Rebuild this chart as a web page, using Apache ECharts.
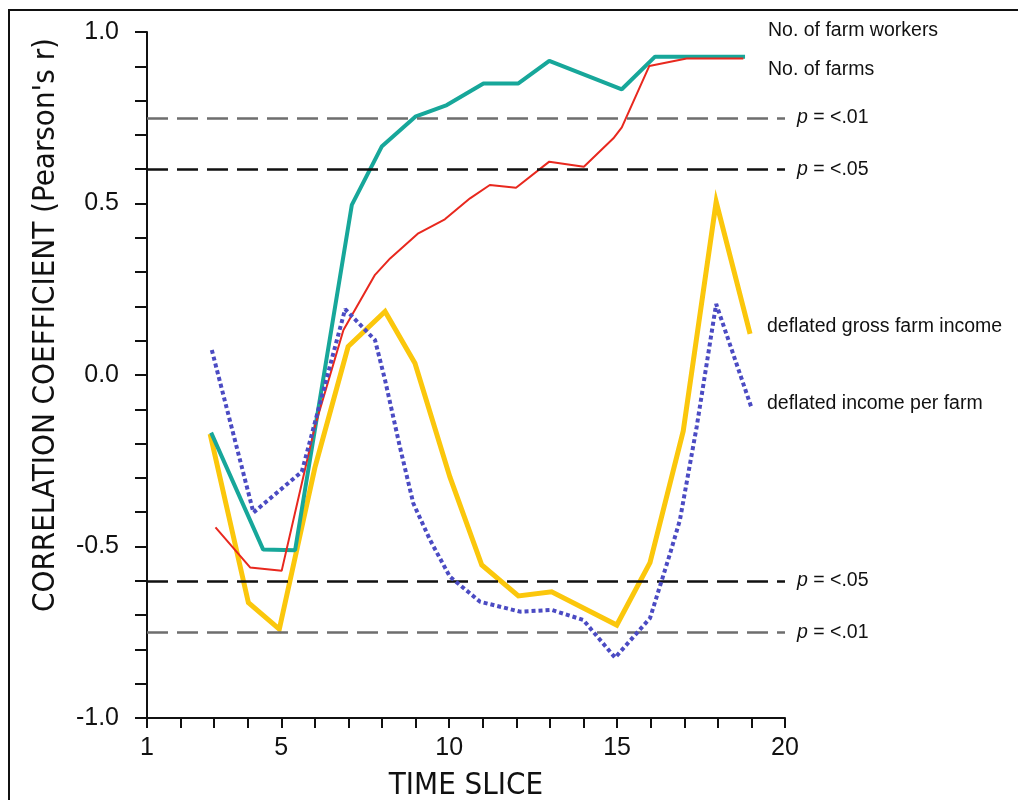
<!DOCTYPE html>
<html>
<head>
<meta charset="utf-8">
<script src="https://cdn.jsdelivr.net/npm/echarts@6/dist/echarts.min.js"></script>
<style>
html,body{margin:0;padding:0;background:#fff;}
#chart{width:1018px;height:800px;}
</style>
</head>
<body>
<div id="chart"></div>
<script>
// ---- data ----
const xTickLabels = [1, 5, 10, 15, 20];
const yTickLabels = [-1.0, -0.5, 0.0, 0.5, 1.0];

const workersT = [2.91, 4.46, 5.41, 7.10, 7.99, 8.99, 9.93, 11.02, 12.06, 12.98, 15.14, 16.13, 18.81];
const workersR = [-0.168, -0.509, -0.511, 0.496, 0.666, 0.753, 0.787, 0.850, 0.850, 0.916, 0.833, 0.928, 0.928];

const farmsT = [3.04, 4.07, 5.01, 6.0, 6.85, 7.79, 8.24, 9.08, 9.87, 10.62, 11.21, 11.99, 12.98, 14.01, 14.89, 15.14, 15.96, 17.07, 18.76];
const farmsR = [-0.444, -0.561, -0.571, -0.15, 0.131, 0.292, 0.340, 0.413, 0.454, 0.515, 0.554, 0.546, 0.622, 0.607, 0.690, 0.722, 0.901, 0.923, 0.923];

const incomeT = [2.88, 4.02, 4.94, 6.0, 6.99, 8.09, 8.98, 10.02, 10.97, 12.06, 13.05, 14.99, 15.98, 16.97, 17.95, 18.96];
const incomeR = [-0.172, -0.664, -0.741, -0.27, 0.083, 0.185, 0.034, -0.297, -0.554, -0.644, -0.632, -0.729, -0.547, -0.163, 0.505, 0.120];

const perFarmT = [2.93, 4.17, 5.61, 6.90, 7.79, 8.09, 8.53, 8.93, 9.43, 10.02, 10.92, 12.11, 13.05, 13.99, 14.94, 15.98, 16.57, 16.87, 17.37, 17.95, 19.0];
const perFarmR = [0.073, -0.401, -0.282, 0.192, 0.102, -0.015, -0.209, -0.374, -0.481, -0.588, -0.661, -0.690, -0.685, -0.714, -0.824, -0.709, -0.523, -0.423, -0.151, 0.207, -0.095];

const sigLevels = [0.75, 0.6, -0.6, -0.75];
const sigLabels = ['<.01', '<.05', '<.05', '<.01'];

const seriesNames = ['deflated gross farm income', 'No. of farm workers', 'No. of farms', 'deflated income per farm'];
const seriesLabelText = ['No. of farm workers', 'No. of farms', 'deflated gross farm income', 'deflated income per farm'];

// ---- build ----
function pairs(t, r) { return t.map((v, i) => [v, r[i]]); }

const chart = echarts.init(document.getElementById('chart'), null, {renderer: 'canvas'});

const FONT = "'Liberation Sans', Arial, sans-serif";
const NARROW = "'Liberation Sans Narrow', 'Arial Narrow', 'DejaVu Sans Condensed', sans-serif";

const markData = sigLevels.map((v, i) => ({
  yAxis: v,
  lineStyle: {
    color: Math.abs(v) > 0.7 ? '#6e6e6e' : '#111111',
    width: 2.5,
    type: [21, 9]
  },
  label: {
    formatter: '{i|p} = ' + sigLabels[i]
  }
}));

const labelPos = [[768, 31], [768, 70], [767, 327], [767, 404]];

const option = {
  backgroundColor: '#ffffff',
  animation: false,
  grid: {left: 147, right: 233, top: 32, bottom: 82, containLabel: false, outerBoundsMode: 'none'},
  xAxis: {
    type: 'value',
    min: 1, max: 20, interval: 1,
    name: 'TIME SLICE',
    nameLocation: 'middle',
    nameGap: 52,
    nameTextStyle: {fontFamily: NARROW, fontSize: 31, color: '#111'},
    axisLine: {onZero: false, lineStyle: {color: '#111', width: 2}},
    axisTick: {length: 10, lineStyle: {color: '#111', width: 2}},
    axisLabel: {
      margin: 18,
      fontFamily: FONT, fontSize: 25, color: '#111',
      formatter: v => xTickLabels.includes(Math.round(v)) && Math.abs(v - Math.round(v)) < 1e-6 ? String(Math.round(v)) : ''
    },
    splitLine: {show: false}
  },
  yAxis: {
    type: 'value',
    min: -1, max: 1, interval: 0.1,
    axisLine: {show: true, onZero: false, lineStyle: {color: '#111', width: 2}},
    axisTick: {show: true, length: 12, lineStyle: {color: '#111', width: 2}},
    axisLabel: {
      margin: 28,
      fontFamily: FONT, fontSize: 25, color: '#111',
      formatter: v => {
        const hit = yTickLabels.find(t => Math.abs(t - v) < 1e-6);
        return hit === undefined ? '' : hit.toFixed(1);
      }
    },
    splitLine: {show: false}
  },
  series: [
    {
      name: seriesNames[0], type: 'line', data: pairs(incomeT, incomeR),
      showSymbol: false, symbol: 'none', z: 2,
      lineStyle: {color: '#fbc70c', width: 5, join: 'miter'},
      markLine: {
        silent: true, symbol: ['none', 'none'],
        label: {
          show: true, position: 'end', distance: 12,
          fontFamily: FONT, fontSize: 19.5, color: '#111',
          rich: {i: {fontStyle: 'italic', fontFamily: FONT, fontSize: 19.5, color: '#111'}}
        },
        data: markData
      }
    },
    {
      name: seriesNames[1], type: 'line', data: pairs(workersT, workersR),
      showSymbol: false, symbol: 'none', z: 3,
      lineStyle: {color: '#17a79a', width: 4}
    },
    {
      name: seriesNames[2], type: 'line', data: pairs(farmsT, farmsR),
      showSymbol: false, symbol: 'none', z: 4,
      lineStyle: {color: '#e8281e', width: 2}
    },
    {
      name: seriesNames[3], type: 'line', data: pairs(perFarmT, perFarmR),
      showSymbol: false, symbol: 'none', z: 5,
      lineStyle: {color: '#4b4bc3', width: 4, type: [4, 3]}
    }
  ],
  graphic: [
    {
      type: 'rect', silent: true,
      shape: {x: 9, y: 10, width: 1100, height: 900},
      style: {fill: 'none', stroke: '#111', lineWidth: 2}
    },
    {
      type: 'text', silent: true,
      x: 46, y: 325, rotation: Math.PI / 2,
      style: {
        text: 'CORRELATION COEFFICIENT (Pearson\'s r)',
        font: '31px ' + NARROW, fill: '#111',
        textAlign: 'center', textVerticalAlign: 'middle'
      }
    }
  ].concat(seriesLabelText.map((t, i) => ({
    type: 'text', silent: true,
    x: labelPos[i][0], y: labelPos[i][1],
    style: {
      text: t, font: '19.5px ' + FONT, fill: '#111',
      textAlign: 'left', textVerticalAlign: 'middle'
    }
  })))
};

chart.setOption(option);
</script>
</body>
</html>
